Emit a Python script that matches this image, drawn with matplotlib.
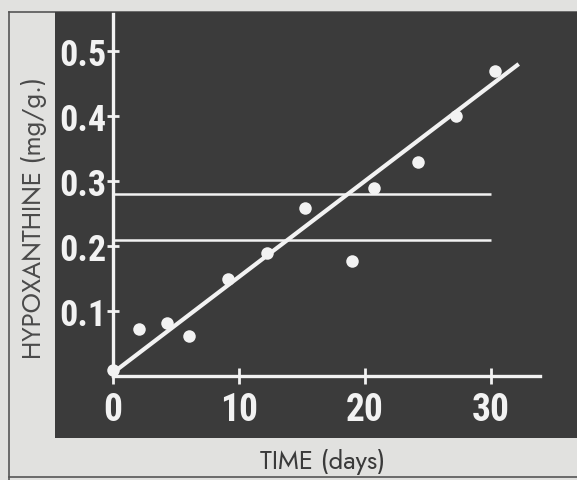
import matplotlib
matplotlib.use("Agg")
import matplotlib.pyplot as plt
from matplotlib.patches import Rectangle
from matplotlib.lines import Line2D

# data
days = [0, 2.1, 4.3, 6.0, 9.1, 12.2, 15.2, 19.0, 20.7, 24.2, 27.2, 30.3]
hypoxanthine = [0.01, 0.072, 0.082, 0.062, 0.149, 0.19, 0.259, 0.177, 0.29, 0.33, 0.40, 0.469]
fit_days = [0, 32.2]
fit_values = [0.005, 0.48]
limit_levels = [0.21, 0.28]
limit_span = [0, 30]

x_ticks = [0, 10, 20, 30]
x_ticklabels = ['0', '10', '20', '30']
y_ticks = [0.1, 0.2, 0.3, 0.4, 0.5]
y_ticklabels = ['0.1', '0.2', '0.3', '0.4', '0.5']

W, H = 577, 481
paper = '#e1e1df'
panel = '#3b3b3b'
ink = '#4a4a4a'
white = '#f2f2f2'

fig = plt.figure(figsize=(W / 100, H / 100), dpi=100, facecolor=paper)

# dark photographic panel
fig.patches.append(Rectangle((55 / W, 1 - 439 / H), 1 - 55 / W, (439 - 13) / H,
                             transform=fig.transFigure, facecolor=panel,
                             edgecolor='none', zorder=-1))
# thin page frame
frame = dict(transform=fig.transFigure, color='#555555', linewidth=1.2, zorder=-1)
fig.lines.append(Line2D([8.5 / W, 8.5 / W], [0, 1 - 13 / H], **frame))
fig.lines.append(Line2D([8.5 / W, 1], [1 - 13 / H, 1 - 13 / H], **frame))
fig.lines.append(Line2D([8.5 / W, 1], [1 - 478 / H, 1 - 478 / H], **frame))

# axes: x=0 at px 113, 12.6 px/day; y=0 at px 377, 650 px per unit
x0, x1 = 113, 540
y0, y1 = 377, 15
ax = fig.add_axes([x0 / W, 1 - y0 / H, (x1 - x0) / W, (y0 - y1) / H])
ax.set_zorder(2)
ax.set_facecolor('none')
ax.set_xlim(0, (x1 - x0) / 12.6)
ax.set_ylim(0, (y0 - y1) / 650)

for side in ['top', 'right']:
    ax.spines[side].set_visible(False)
for side in ['left', 'bottom']:
    ax.spines[side].set_color(white)
    ax.spines[side].set_linewidth(2.4)

num_font = ['Roboto Condensed', 'Oswald', 'Archivo Narrow', 'PT Sans Narrow', 'DejaVu Sans']
label_font = ['Jost', 'Futura', 'Poppins', 'DejaVu Sans']
ax.set_xticks(x_ticks)
ax.set_xticklabels(x_ticklabels, family=num_font, fontweight='bold', fontsize=27, color=white)
ax.set_yticks(y_ticks)
ax.set_yticklabels(y_ticklabels, family=num_font, fontweight='bold', fontsize=26, color=white)
ax.tick_params(axis='x', direction='inout', length=11, width=2, color=white, pad=5)
ax.tick_params(axis='y', direction='inout', length=9, width=2, color=white, pad=0)

# reference levels
for lvl in limit_levels:
    ax.plot(limit_span, [lvl, lvl], color=white, linewidth=1.8, solid_capstyle='butt')

# fitted line and measurements
ax.plot(fit_days, fit_values, color=white, linewidth=3, solid_capstyle='butt')
ax.plot(days, hypoxanthine, 'o', color=white, markersize=9, markeredgewidth=0, clip_on=False)

fig.text(34 / W, 1 - 218 / H, 'HYPOXANTHINE (mg/g.)', rotation=90, ha='center', va='center',
         family=label_font, fontsize=18.5, color=ink)
fig.text(323 / W, 1 - 462 / H, 'TIME (days)', ha='center', va='center',
         family=label_font, fontsize=18.5, color='#3a3a3a')

fig.savefig('out.png', dpi=100, facecolor=paper)
